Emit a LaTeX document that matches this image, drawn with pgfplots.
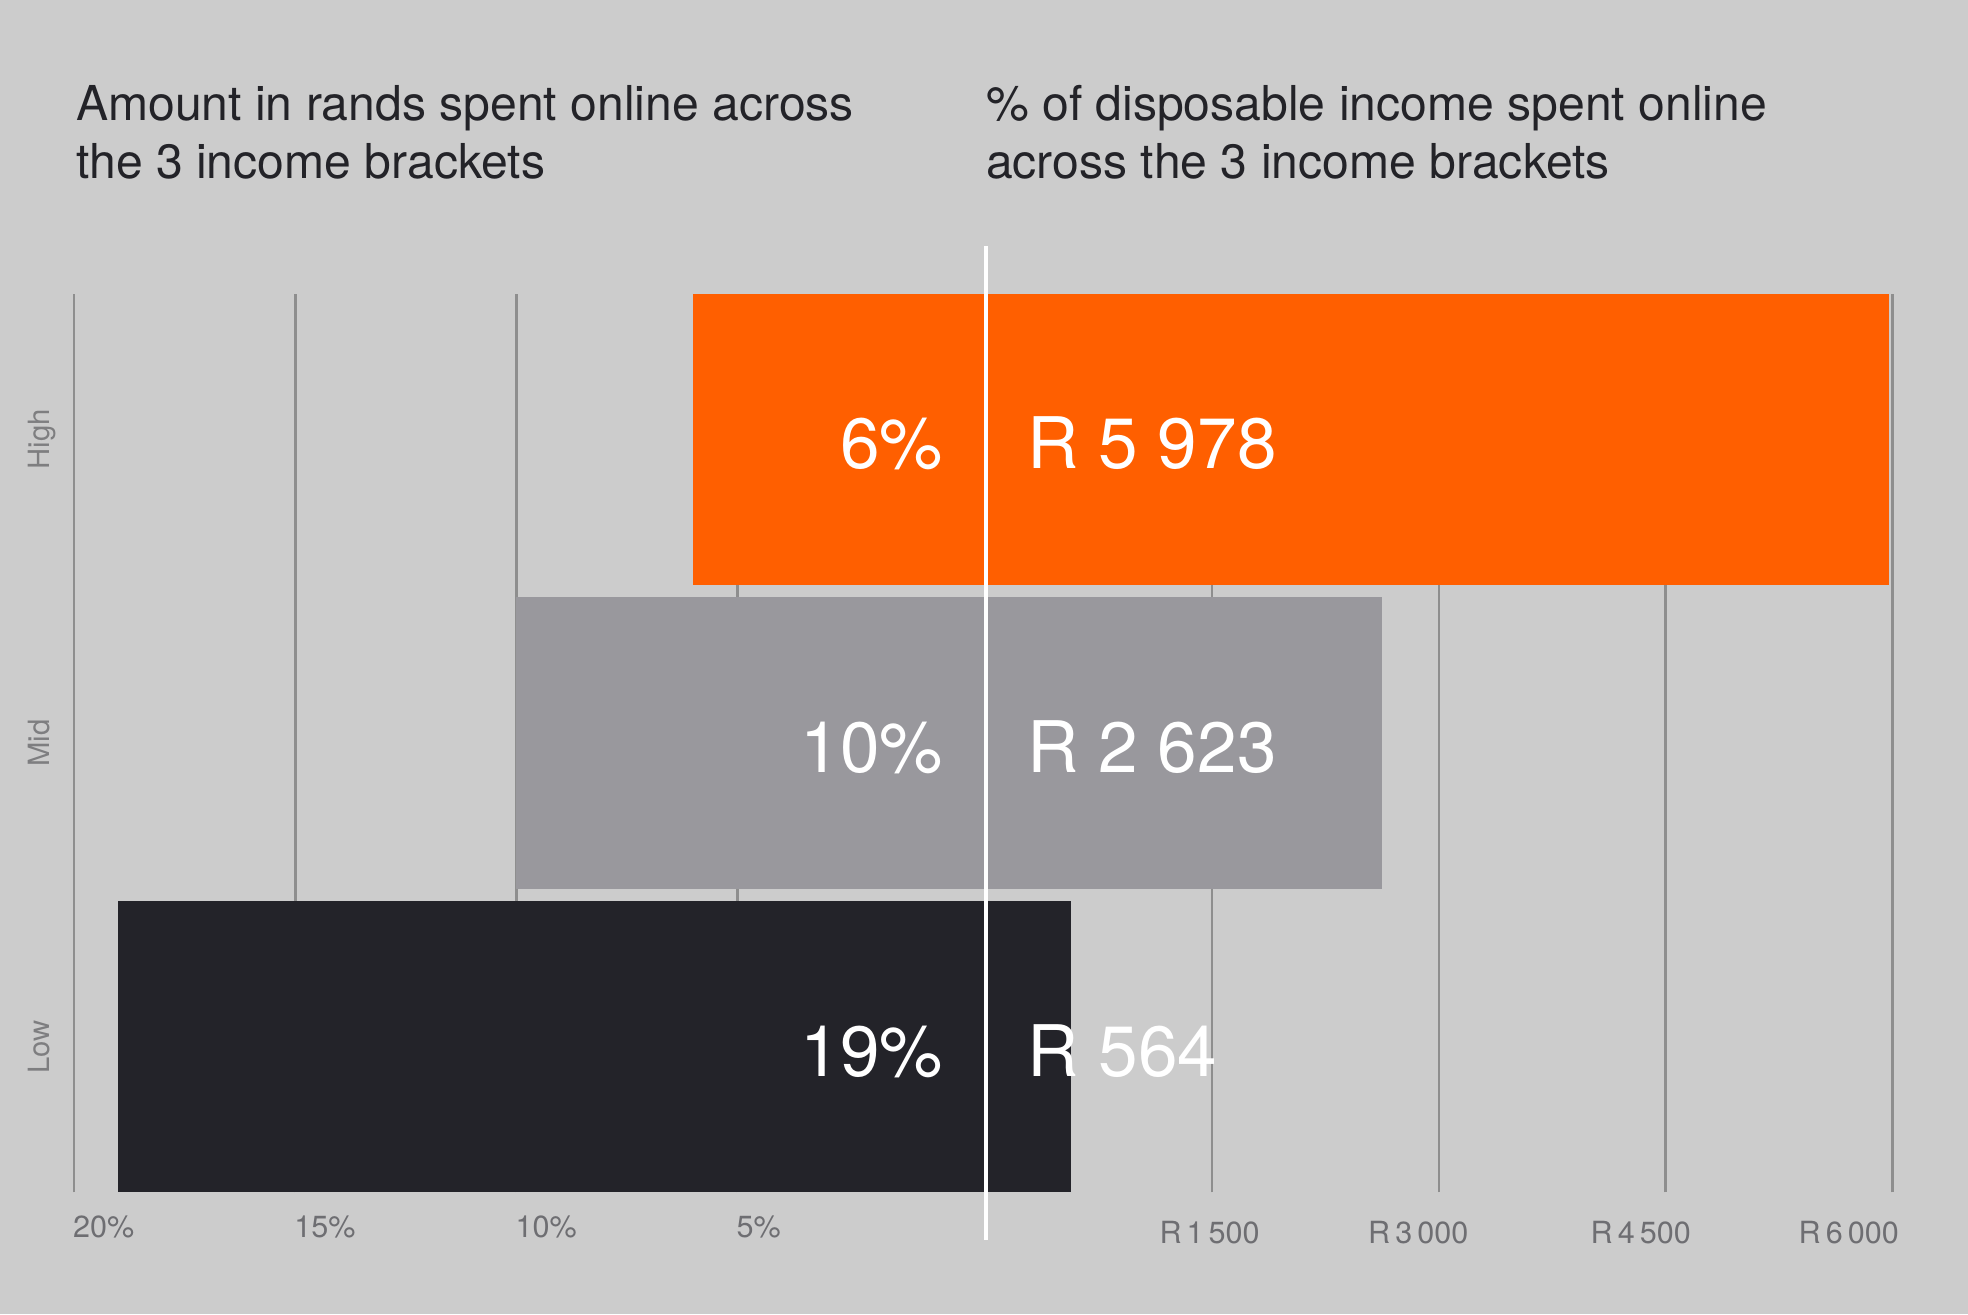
\documentclass[border=0pt]{standalone}
\usepackage{fontspec}
\setmainfont{TeX Gyre Heros}
\usepackage{pgfplots}
\pgfplotsset{compat=1.18}
\definecolor{bgC}{HTML}{CCCCCC}
\definecolor{orangeC}{HTML}{FF5F00}
\definecolor{midC}{HTML}{99989D}
\definecolor{darkC}{HTML}{232329}
\definecolor{gridC}{HTML}{8E8E8E}
\definecolor{titleC}{HTML}{232328}
\definecolor{tickC}{HTML}{6E6E72}
\definecolor{ylabC}{HTML}{7E7E80}
\begin{document}
\begin{tikzpicture}
\fill[bgC] (0pt,0pt) rectangle (470.4pt,314.1pt);
% left axis: percentages
\begin{axis}[
  at={(17.7pt,29.1pt)}, anchor=south west,
  width=217.8pt, height=214.8pt, scale only axis,
  xmin=-20, xmax=0.6,
  x coord trafo/.code={\pgfmathparse{#1-0.6}},
  x coord inv trafo/.code={\pgfmathparse{#1+0.6}},
  ymin=-0.479, ymax=2.479, enlargelimits=false,
  xbar, bar width=69.6pt, bar shift=0pt,
  axis line style={draw=none}, major tick length=0pt,
  xtick={-20,-15,-10,-5}, xticklabels={20\%,15\%,10\%,5\%},
  xticklabel style={anchor=base west, inner sep=0pt, yshift=-10.8pt, xshift=-0.4pt,
    font=\fontsize{7.3}{8}\selectfont, text=tickC},
  xmajorgrids, major grid style={gridC, line width=0.65pt},
  ytick={0,1,2}, yticklabels={Low,Mid,High},
  yticklabel style={rotate=90, anchor=base, inner sep=0pt,
    font=\fontsize{7}{8}\selectfont, text=ylabC},
  yticklabel shift=5.9pt,
]
\addplot[fill=orangeC, draw=none] coordinates {(-6,2)};
\addplot[fill=midC, draw=none] coordinates {(-10,1)};
\addplot[fill=darkC, draw=none] coordinates {(-19,0)};
\end{axis}
% right axis: rands
\begin{axis}[
  at={(235.5pt,29.1pt)}, anchor=south west,
  width=218.7pt, height=214.8pt, scale only axis,
  xmin=0, xmax=6050,
  ymin=-0.479, ymax=2.479, enlargelimits=false,
  xbar, bar width=69.6pt, bar shift=0pt,
  axis line style={draw=none}, major tick length=0pt,
  scaled x ticks=false,
  xtick={1500,3000,4500,6000},
  xticklabel={\ifcase\ticknum\relax\hspace*{-1.2pt}R\,1\,500\or\hspace*{-9.9pt}R\,3\,000\or\hspace*{-12pt}R\,4\,500\or\hspace*{-21pt}R\,6\,000\fi},
  xticklabel style={anchor=base, inner sep=0pt, yshift=-12.3pt,
    font=\fontsize{7.3}{8}\selectfont, text=tickC},
  xmajorgrids, major grid style={gridC, line width=0.65pt},
  ytick=\empty,
]
\addplot[fill=orangeC, draw=none] coordinates {(5978,2)};
\addplot[fill=midC, draw=none] coordinates {(2623,1)};
\addplot[fill=darkC, draw=none] coordinates {(564,0)};
\end{axis}
% centre line
\draw[white, line width=0.9pt] (235.6pt,17.7pt) -- (235.6pt,255.3pt);
% bar labels
\begin{scope}[every node/.style={inner sep=0pt, text=white, font=\fontsize{17}{20}\selectfont}]
\node[anchor=base east] at (225.6pt,202.1pt) {6\%};
\node[anchor=base west] at (245.4pt,202.1pt) {R 5 978};
\node[anchor=base east] at (225.6pt,129.5pt) {10\%};
\node[anchor=base west] at (245.4pt,129.5pt) {R 2 623};
\node[anchor=base east] at (225.6pt,56.9pt) {19\%};
\node[anchor=base west] at (245.4pt,56.9pt) {R 564};
\end{scope}
% titles
\begin{scope}[every node/.style={inner sep=0pt, anchor=base west, text=titleC, font=\fontsize{11.5}{13.8}\selectfont}]
\node at (18pt,285.3pt) {Amount in rands spent online across};
\node at (18pt,271.5pt) {the 3 income brackets};
\node at (235.5pt,285.3pt) {\% of disposable income spent online};
\node at (235.5pt,271.5pt) {across the 3 income brackets};
\end{scope}
\end{tikzpicture}
\end{document}
